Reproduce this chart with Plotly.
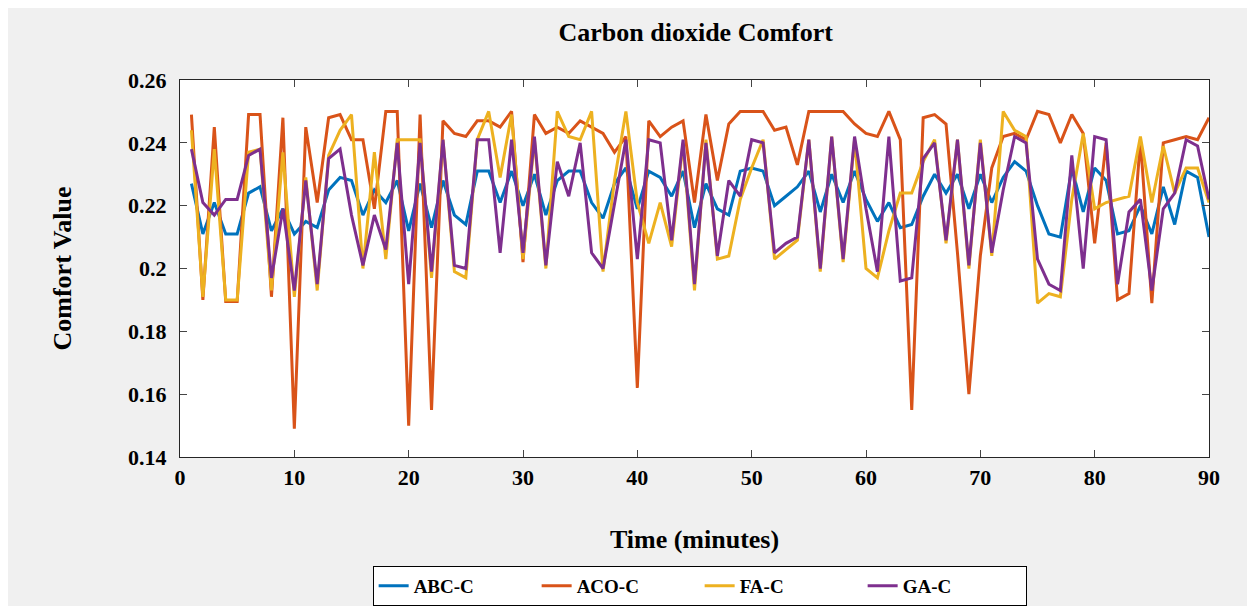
import plotly.graph_objects as go

minutes = list(range(1, 91))

abc_c = [0.227, 0.211, 0.221, 0.211, 0.211, 0.224, 0.226, 0.212, 0.219, 0.211,
         0.215, 0.213, 0.225, 0.229, 0.228, 0.217, 0.225, 0.221, 0.228, 0.212,
         0.227, 0.213, 0.228, 0.217, 0.214, 0.231, 0.231, 0.221, 0.231, 0.220,
         0.230, 0.217, 0.228, 0.231, 0.231, 0.221, 0.216, 0.227, 0.232, 0.219,
         0.231, 0.229, 0.223, 0.231, 0.213, 0.227, 0.219, 0.217, 0.231, 0.232,
         0.231, 0.220, 0.223, 0.226, 0.231, 0.218, 0.230, 0.221, 0.231, 0.222,
         0.215, 0.221, 0.213, 0.214, 0.223, 0.230, 0.224, 0.230, 0.219, 0.230,
         0.221, 0.229, 0.234, 0.231, 0.220, 0.211, 0.210, 0.232, 0.218, 0.232,
         0.228, 0.211, 0.212, 0.220, 0.211, 0.226, 0.214, 0.231, 0.229, 0.210]

aco_c = [0.249, 0.190, 0.245, 0.1895, 0.1895, 0.249, 0.249, 0.191, 0.248, 0.149,
         0.245, 0.221, 0.248, 0.249, 0.241, 0.241, 0.219, 0.250, 0.250, 0.150,
         0.249, 0.155, 0.247, 0.243, 0.242, 0.247, 0.247, 0.245, 0.250, 0.202,
         0.249, 0.243, 0.245, 0.243, 0.247, 0.245, 0.243, 0.237, 0.242, 0.162,
         0.247, 0.242, 0.245, 0.247, 0.221, 0.249, 0.228, 0.246, 0.250, 0.250,
         0.250, 0.244, 0.245, 0.233, 0.250, 0.250, 0.250, 0.250, 0.246, 0.243,
         0.242, 0.250, 0.241, 0.155, 0.248, 0.249, 0.246, 0.205, 0.160, 0.204,
         0.232, 0.242, 0.243, 0.241, 0.250, 0.249, 0.240, 0.249, 0.243, 0.208,
         0.240, 0.190, 0.192, 0.241, 0.189, 0.240, 0.241, 0.242, 0.241, 0.248]

fa_c = [0.244, 0.191, 0.238, 0.190, 0.190, 0.237, 0.238, 0.193, 0.237, 0.191,
        0.229, 0.193, 0.236, 0.244, 0.249, 0.200, 0.237, 0.203, 0.241, 0.241,
        0.241, 0.197, 0.241, 0.199, 0.197, 0.241, 0.250, 0.229, 0.249, 0.203,
        0.241, 0.200, 0.250, 0.242, 0.241, 0.250, 0.199, 0.228, 0.250, 0.221,
        0.208, 0.221, 0.207, 0.240, 0.193, 0.241, 0.203, 0.204, 0.222, 0.232,
        0.241, 0.203, 0.206, 0.209, 0.241, 0.199, 0.242, 0.202, 0.241, 0.200,
        0.197, 0.212, 0.224, 0.224, 0.234, 0.241, 0.208, 0.241, 0.200, 0.241,
        0.204, 0.250, 0.244, 0.242, 0.189, 0.192, 0.191, 0.222, 0.243, 0.219,
        0.221, 0.222, 0.223, 0.242, 0.221, 0.239, 0.224, 0.232, 0.232, 0.221]

ga_c = [0.238, 0.221, 0.217, 0.222, 0.222, 0.236, 0.238, 0.197, 0.219, 0.193,
        0.228, 0.195, 0.235, 0.238, 0.217, 0.201, 0.217, 0.206, 0.240, 0.195,
        0.240, 0.199, 0.241, 0.201, 0.200, 0.241, 0.241, 0.205, 0.241, 0.205,
        0.242, 0.201, 0.234, 0.223, 0.240, 0.205, 0.200, 0.220, 0.241, 0.203,
        0.241, 0.240, 0.209, 0.241, 0.195, 0.240, 0.204, 0.228, 0.223, 0.241,
        0.240, 0.205, 0.208, 0.210, 0.241, 0.200, 0.242, 0.203, 0.242, 0.219,
        0.199, 0.242, 0.196, 0.197, 0.235, 0.240, 0.209, 0.241, 0.201, 0.240,
        0.205, 0.225, 0.242, 0.240, 0.203, 0.195, 0.193, 0.236, 0.200, 0.242,
        0.241, 0.195, 0.218, 0.222, 0.193, 0.219, 0.224, 0.241, 0.239, 0.222]

series_names = ["ABC-C", "ACO-C", "FA-C", "GA-C"]
series_values = [abc_c, aco_c, fa_c, ga_c]
colors = ["#0072BD", "#D95319", "#EDB120", "#7E2F8E"]

y_ticks = [0.14, 0.16, 0.18, 0.2, 0.22, 0.24, 0.26]
y_tick_labels = ["0.14", "0.16", "0.18", "0.2", "0.22", "0.24", "0.26"]
x_ticks = [0, 10, 20, 30, 40, 50, 60, 70, 80, 90]

FONT = "Liberation Serif"

fig = go.Figure()
for name, vals, col in zip(series_names, series_values, colors):
    fig.add_trace(go.Scatter(x=minutes, y=vals, mode="lines", name=name,
                             line=dict(color=col, width=3)))

fig.update_layout(
    width=1255, height=606,
    paper_bgcolor="#f0f0f0", plot_bgcolor="white",
    margin=dict(l=172, r=54, t=72, b=157, autoexpand=False),
    font=dict(family=FONT, color="black", size=22, weight="bold"),
    title=dict(text="Carbon dioxide Comfort", x=0.548, xanchor="center",
               y=0.96, yanchor="middle",
               font=dict(family=FONT, size=26, weight="bold")),
    showlegend=True,
    legend=dict(orientation="h", x=0.505, xanchor="center", y=-0.289, yanchor="top",
                bgcolor="white", bordercolor="black", borderwidth=1,
                font=dict(family=FONT, size=19, weight="bold"),
                entrywidth=118, entrywidthmode="pixels", tracegroupgap=0,
                valign="middle"),
    xaxis=dict(range=[0, 90], tickvals=x_ticks, ticks="inside", ticklen=7,
               showline=True, linecolor="#262626", linewidth=1, mirror="ticks",
               showgrid=False, zeroline=False, ticklabelstandoff=1,
               tickfont=dict(family=FONT, size=22, weight="bold"),
               title=dict(text="Time (minutes)", standoff=40,
                          font=dict(family=FONT, size=26, weight="bold"))),
    yaxis=dict(range=[0.14, 0.26], tickvals=y_ticks, ticktext=y_tick_labels,
               ticks="inside", ticklen=7,
               showline=True, linecolor="#262626", linewidth=1, mirror="ticks",
               showgrid=False, zeroline=False, ticklabelstandoff=8,
               tickfont=dict(family=FONT, size=22, weight="bold"),
               title=dict(text="Comfort Value", standoff=48,
                          font=dict(family=FONT, size=26, weight="bold"))),
)

fig.write_html("out.html")
